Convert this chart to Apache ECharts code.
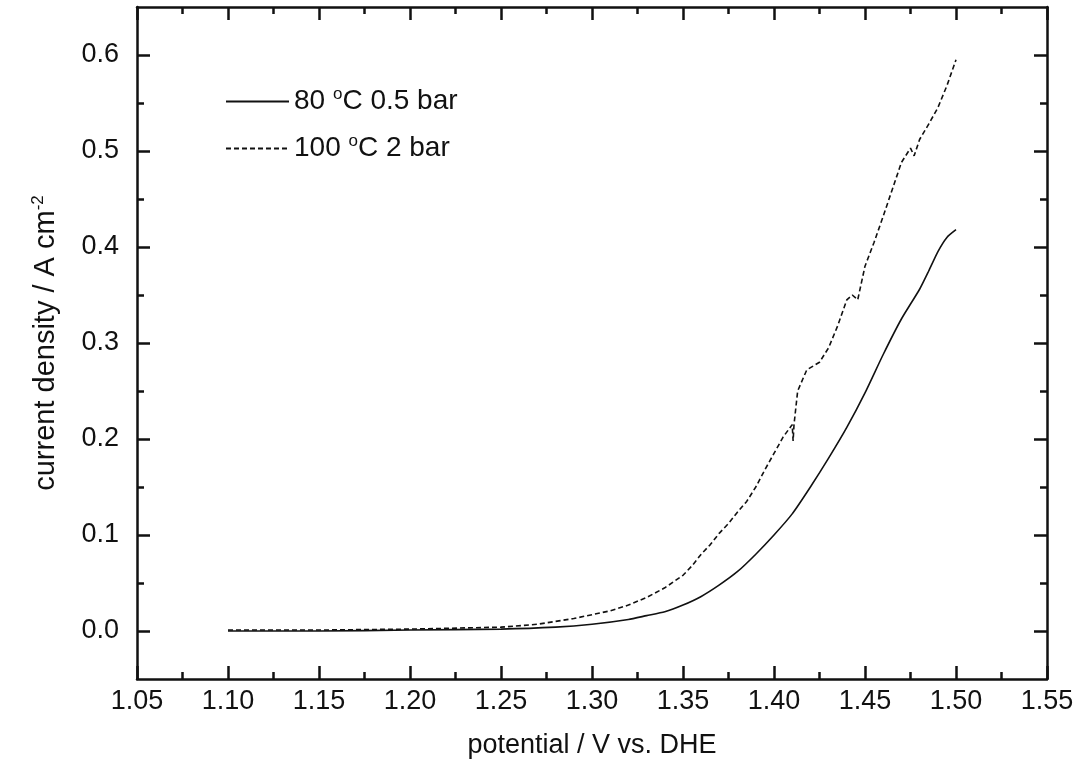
<!DOCTYPE html>
<html>
<head>
<meta charset="utf-8">
<script src="https://cdn.jsdelivr.net/npm/echarts@6/dist/echarts.min.js"></script>
<style>
html,body{margin:0;padding:0;background:#fff;}
#chart{width:1083px;height:779px;}
</style>
</head>
<body>
<div id="chart"></div>
<script>
// ---- data ----
const seriesNames = ['80 °C 0.5 bar', '100 °C 2 bar'];
const potential80 = [1.10, 1.15, 1.20, 1.25, 1.28, 1.30, 1.32, 1.33, 1.34, 1.35, 1.36, 1.37, 1.38, 1.39, 1.40, 1.41, 1.42, 1.43, 1.44, 1.45, 1.46, 1.47, 1.48, 1.485, 1.49, 1.495, 1.50];
const current80   = [0.000, 0.000, 0.001, 0.002, 0.004, 0.007, 0.012, 0.016, 0.020, 0.027, 0.036, 0.048, 0.062, 0.080, 0.100, 0.122, 0.150, 0.180, 0.212, 0.248, 0.288, 0.325, 0.356, 0.375, 0.395, 0.410, 0.418];
const potential100 = [1.10, 1.15, 1.20, 1.25, 1.27, 1.28, 1.29, 1.30, 1.31, 1.32, 1.33, 1.34, 1.35, 1.355, 1.36, 1.365, 1.37, 1.375, 1.38, 1.385, 1.39, 1.395, 1.40, 1.405, 1.41, 1.4105, 1.411, 1.413, 1.418, 1.425, 1.43, 1.435, 1.44, 1.443, 1.446, 1.45, 1.455, 1.46, 1.465, 1.47, 1.475, 1.477, 1.48, 1.485, 1.49, 1.495, 1.50];
const current100   = [0.001, 0.001, 0.002, 0.004, 0.007, 0.010, 0.013, 0.017, 0.021, 0.027, 0.035, 0.045, 0.058, 0.068, 0.080, 0.090, 0.102, 0.112, 0.124, 0.135, 0.150, 0.168, 0.185, 0.202, 0.215, 0.198, 0.215, 0.250, 0.272, 0.280, 0.295, 0.318, 0.345, 0.350, 0.345, 0.380, 0.405, 0.432, 0.460, 0.488, 0.503, 0.495, 0.512, 0.528, 0.545, 0.568, 0.595];
const yMajorTicks = [0.0, 0.1, 0.2, 0.3, 0.4, 0.5, 0.6];
const yMinorTicks = [0.05, 0.15, 0.25, 0.35, 0.45, 0.55];

const FONT = 'Liberation Sans, Arial, sans-serif';
const BLACK = '#111';

function zip(a, b) { return a.map((v, i) => [v, b[i]]); }

const chart = echarts.init(document.getElementById('chart'), null, {renderer: 'canvas'});

const axisLine = {show: true, onZero: false, lineStyle: {color: BLACK, width: 2.5}};
const yBase = {type: 'value', min: -0.05, max: 0.65, splitLine: {show: false}};
const supStyle = {fontFamily: FONT, fontSize: 17, color: BLACK, verticalAlign: 'top', padding: [0, 0, 14, 0]};

const option = {
  backgroundColor: '#fff',
  animation: false,
  grid: {left: 137, right: 36, top: 7, bottom: 100, containLabel: false},
  legend: {
    orient: 'vertical',
    left: 220,
    top: 81,
    itemWidth: 63,
    itemHeight: 14,
    itemGap: 16,
    data: seriesNames,
    itemStyle: {opacity: 0},
    formatter: function (n) { return n.replace('°', '{sup|o}'); },
    textStyle: {
      fontFamily: FONT, fontSize: 28, color: BLACK, lineHeight: 31,
      rich: {sup: supStyle}
    }
  },
  xAxis: [
    {
      type: 'value', min: 1.05, max: 1.55, interval: 0.05, position: 'bottom',
      name: 'potential / V vs. DHE', nameLocation: 'middle', nameGap: 53,
      nameTextStyle: {fontFamily: FONT, fontSize: 27, color: BLACK},
      axisLine: axisLine,
      axisTick: {show: true, inside: true, length: 13, lineStyle: {color: BLACK, width: 2.5}},
      minorTick: {show: true, splitNumber: 2, length: 7, lineStyle: {color: BLACK, width: 2.5}},
      axisLabel: {fontFamily: FONT, fontSize: 27, color: BLACK, margin: 9, formatter: v => v.toFixed(2)},
      splitLine: {show: false}
    },
    {
      type: 'value', min: 1.05, max: 1.55, interval: 0.05, position: 'top',
      axisLine: axisLine,
      axisTick: {show: true, inside: true, length: 13, lineStyle: {color: BLACK, width: 2.5}},
      minorTick: {show: true, splitNumber: 2, length: 7, lineStyle: {color: BLACK, width: 2.5}},
      axisLabel: {show: false},
      splitLine: {show: false}
    }
  ],
  yAxis: [
    Object.assign({}, yBase, {
      position: 'left',
      name: 'current density / A cm{sup|-2}', nameLocation: 'middle', nameGap: 76, nameRotate: 90,
      nameTextStyle: {
        fontFamily: FONT, fontSize: 29, color: BLACK,
        rich: {sup: supStyle}
      },
      axisLine: axisLine,
      axisTick: {show: true, inside: true, length: 13, customValues: yMajorTicks, lineStyle: {color: BLACK, width: 2.5}},
      axisLabel: {fontFamily: FONT, fontSize: 27, color: BLACK, margin: 18, customValues: yMajorTicks, formatter: v => v.toFixed(1)}
    }),
    Object.assign({}, yBase, {
      position: 'left',
      axisLine: {show: false},
      axisTick: {show: true, inside: true, length: 7, customValues: yMinorTicks, lineStyle: {color: BLACK, width: 2.5}},
      axisLabel: {show: false}
    }),
    Object.assign({}, yBase, {
      position: 'right',
      axisLine: axisLine,
      axisTick: {show: true, inside: true, length: 13, customValues: yMajorTicks, lineStyle: {color: BLACK, width: 2.5}},
      axisLabel: {show: false}
    }),
    Object.assign({}, yBase, {
      position: 'right',
      axisLine: {show: false},
      axisTick: {show: true, inside: true, length: 7, customValues: yMinorTicks, lineStyle: {color: BLACK, width: 2.5}},
      axisLabel: {show: false}
    })
  ],
  series: [
    {
      name: seriesNames[0], type: 'line', xAxisIndex: 0, yAxisIndex: 0,
      data: zip(potential80, current80), symbol: 'none', smooth: 0.2,
      lineStyle: {color: BLACK, width: 1.6, type: 'solid'},
      itemStyle: {color: BLACK}
    },
    {
      name: seriesNames[1], type: 'line', xAxisIndex: 0, yAxisIndex: 0,
      data: zip(potential100, current100), symbol: 'none',
      lineStyle: {color: BLACK, width: 1.6, type: [5, 3]},
      itemStyle: {color: BLACK}
    }
  ]
};
chart.setOption(option);
</script>
</body>
</html>
